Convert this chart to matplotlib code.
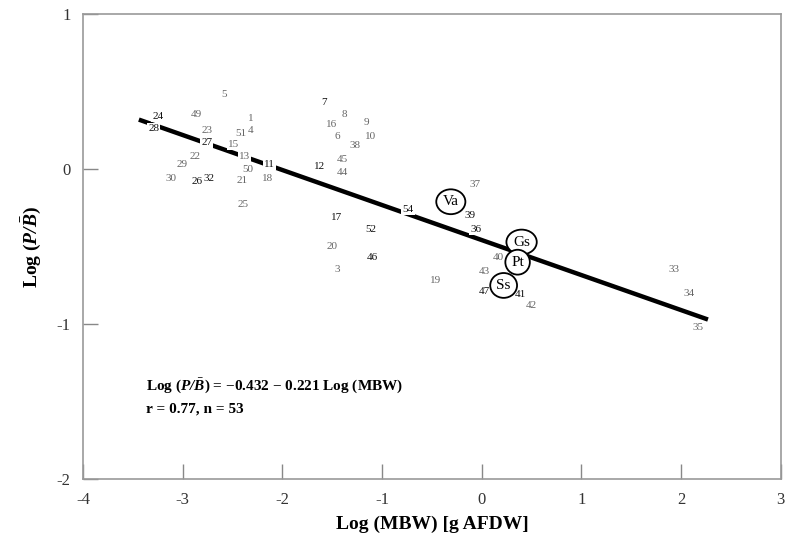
import matplotlib
matplotlib.use("Agg")
import matplotlib.pyplot as plt

plt.rcParams['font.family'] = ['Liberation Serif', 'DejaVu Serif']
plt.rcParams['axes.unicode_minus'] = False
plt.rcParams['mathtext.fontset'] = 'custom'
plt.rcParams['mathtext.rm'] = 'Liberation Serif'
plt.rcParams['mathtext.it'] = 'Liberation Serif:italic'
plt.rcParams['mathtext.bf'] = 'Liberation Serif:bold'
plt.rcParams['mathtext.bfit'] = 'Liberation Serif:italic:bold'

# Numbered data points (species labels)
labels = ['24', '28', '5', '49', '1', '23', '27', '51', '4', '15', '22', '13', '29',
          '50', '11', '30', '26', '32', '21', '18', '25', '7', '8', '16', '9', '6',
          '10', '38', '12', '45', '44', '17', '54', '52', '20', '46', '3', '19',
          '37', '39', '36', '40', '43', '47', '41', '42', '33', '34', '35']
log_mbw = [-3.25, -3.29, -2.59, -2.86, -2.32, -2.76, -2.76, -2.42, -2.32, -2.49, -2.88,
           -2.38, -3.01, -2.35, -2.13, -3.12, -2.86, -2.74, -2.40, -2.15, -2.39, -1.58,
           -1.38, -1.51, -1.16, -1.45, -1.12, -1.27, -1.63, -1.40, -1.40, -1.46, -0.74,
           -1.11, -1.50, -1.10, -1.45, -0.46, -0.07, -0.12, -0.06, 0.17, 0.03, 0.03,
           0.39, 0.50, 1.93, 2.08, 2.17]
log_pb = [0.34, 0.26, 0.48, 0.35, 0.33, 0.25, 0.17, 0.23, 0.25, 0.16, 0.08, 0.08, 0.03,
          0.00, 0.03, -0.06, -0.08, -0.06, -0.07, -0.06, -0.23, 0.43, 0.35, 0.29, 0.30,
          0.21, 0.21, 0.15, 0.02, 0.06, -0.02, -0.31, -0.26, -0.39, -0.50, -0.57, -0.65,
          -0.72, -0.10, -0.30, -0.39, -0.57, -0.66, -0.79, -0.81, -0.88, -0.65, -0.80,
          -1.02]

# Circled data points
circ_labels = ['Va', 'Gs', 'Pt', 'Ss']
circ_mbw = [-0.31, 0.40, 0.36, 0.22]
circ_pb = [-0.21, -0.47, -0.60, -0.75]

# Regression line endpoints
line_x = [-3.44, 2.27]
line_y = [0.32, -0.97]

x_ticks = [-4, -3, -2, -1, 0, 1, 2, 3]
y_ticks = [-2, -1, 0, 1]

dark_labels = {'24', '28', '7', '12', '17', '54', '52', '46', '11', '27', '26', '32', '36', '39', '47', '41'}

fig = plt.figure(figsize=(7.91, 5.47), dpi=100)
ax = fig.add_axes([0.105, 0.124, 0.882, 0.850])

ax.plot(line_x, line_y, color='black', linewidth=3.2, solid_capstyle='butt', zorder=2)

for lab, x, y in zip(labels, log_mbw, log_pb):
    col = '#111111' if lab in dark_labels else '#666666'
    ax.text(x, y, lab, ha='center', va='center', fontsize=8, color=col, zorder=3,
            bbox=dict(boxstyle='square,pad=0.1', fc='white', ec='none'))

for lab, x, y in zip(circ_labels, circ_mbw, circ_pb):
    ax.text(x, y, lab, ha='center', va='center', fontsize=11, color='black', zorder=4,
            bbox=dict(boxstyle='ellipse,pad=0.15', fc='white', ec='black', lw=1.3))

ax.text(-3.37, -1.40, r'Log ($\mathbfit{P/\bar{B}}$) = $-$0.432 $-$ 0.221 Log (MBW)',
        fontsize=11, fontweight='bold', ha='left', va='center')
ax.text(-3.37, -1.55, 'r = 0.77, n = 53', fontsize=11, fontweight='bold',
        ha='left', va='center')

ax.set_xlim(-4, 3)
ax.set_ylim(-2, 1)
ax.set_xticks(x_ticks)
ax.set_yticks(y_ticks)
ax.set_xticklabels([str(t) for t in x_ticks])
ax.set_yticklabels([str(t) for t in y_ticks])
ax.tick_params(direction='in', length=11, width=1, color='#888888', labelsize=12,
               labelcolor='#333333', pad=9)
for s in ax.spines.values():
    s.set_color('#999999')
    s.set_linewidth(1.2)

ax.set_xlabel('Log (MBW) [g AFDW]', fontsize=14, fontweight='bold', labelpad=6)
ax.set_ylabel(r'Log ($\mathbfit{P/\bar{B}}$)', fontsize=14, fontweight='bold', labelpad=10)

fig.savefig('out.png', dpi=100)
